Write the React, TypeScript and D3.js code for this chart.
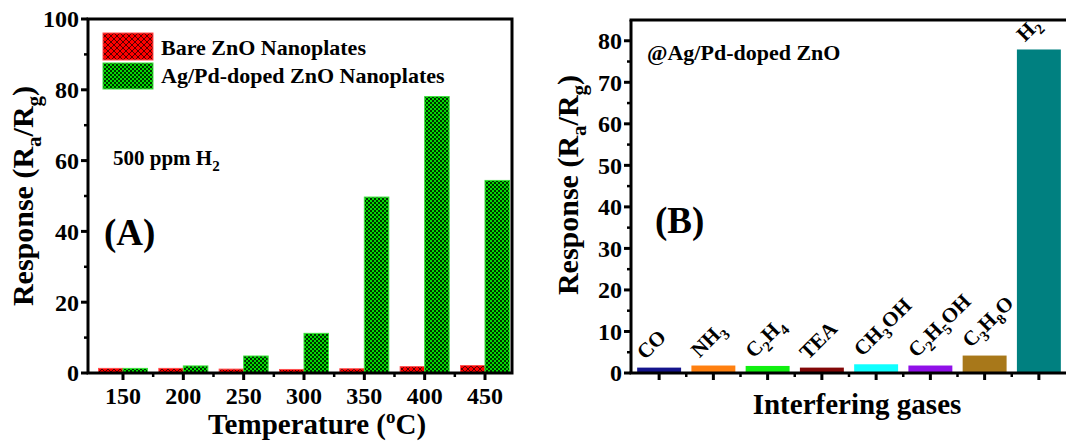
import * as d3 from 'd3';

// Panel A: response vs operating temperature, 500 ppm H2
const temperatures = ['150', '200', '250', '300', '350', '400', '450'];
const bareZnO = [1.3, 1.3, 1.1, 1.0, 1.2, 1.8, 2.1];
const dopedZnO = [1.3, 2.0, 4.8, 11.2, 49.7, 78.1, 54.4];
const tempTicks = [0, 20, 40, 60, 80, 100];

// Panel B: selectivity of Ag/Pd-doped ZnO
const gases = ['CO', 'NH3', 'C2H4', 'TEA', 'CH3OH', 'C2H5OH', 'C3H8O', 'H2'];
const gasResponse = [1.3, 1.8, 1.7, 1.3, 2.1, 1.8, 4.2, 77.9];
const gasColors = ['#14148c', '#ff8010', '#10f010', '#820808', '#10ffff', '#9010e8', '#a8781a', '#008080'];
const gasTicks = [0, 10, 20, 30, 40, 50, 60, 70, 80];

const FONT = '"Liberation Serif", "Times New Roman", serif';

// rough Times-Bold advance widths (em) for the letters used in gas names
const GLYPH_W: Record<string, number> = { C: 0.722, O: 0.778, N: 0.722, H: 0.778, T: 0.667, E: 0.667, A: 0.722 };
const glyphW = (ch: string) => (/\d/.test(ch) ? 0.5 : GLYPH_W[ch] ?? 0.7);

// break a formula into pieces, each placed as its own rotated <text>
function chemPieces(label: string, size: number, angle: number) {
  const parts = label.match(/[A-Za-z]+|\d+/g) || [];
  const rad = (angle * Math.PI) / 180;
  const ux = Math.cos(rad), uy = Math.sin(rad);
  const vx = -Math.sin(rad), vy = Math.cos(rad); // "down" in the rotated frame
  let adv = 0;
  return parts.map(p => {
    const sub = /\d/.test(p);
    const fs = sub ? size * 0.7 : size;
    const shift = sub ? size * 0.28 : 0;
    const piece = { text: p, fs, dx: adv * ux + shift * vx, dy: adv * uy + shift * vy };
    adv += p.split('').reduce((s, ch) => s + glyphW(ch) * fs, 0);
    return piece;
  });
}

function YTitle({ x, y }: { x: number; y: number }) {
  const fs = 30, sh = 8;
  return (
    <text transform={`translate(${x},${y}) rotate(-90)`} textAnchor="middle" fontSize={fs} fontWeight="bold">
      Response (R<tspan fontSize={fs * 0.7} dy={sh}>a</tspan>
      <tspan dy={-sh}>/R</tspan>
      <tspan fontSize={fs * 0.7} dy={sh}>g</tspan>
      <tspan dy={-sh}>)</tspan>
    </text>
  );
}

function PanelA() {
  const left = 88, right = 512, top = 19, bottom = 373;
  const x = d3.scalePoint<string>().domain(temperatures).range([123, 485]);
  const inner = d3.scaleBand<string>().domain(['bare', 'doped']).range([-24.5, 24.5]);
  const y = d3.scaleLinear().domain([0, 100]).range([bottom, top]);
  const minorY = d3.range(10, 100, 20);
  const step = x.step();
  const minorX = temperatures.slice(0, -1).map(t => (x(t) as number) + step / 2);

  return (
    <g>
      {temperatures.map((t, i) => (
        <g key={t}>
          <rect x={(x(t) as number) + (inner('bare') as number)} y={y(bareZnO[i])}
            width={inner.bandwidth()} height={bottom - y(bareZnO[i])}
            fill="url(#redHatch)" stroke="#ff5050" strokeWidth={1} />
          <rect x={(x(t) as number) + (inner('doped') as number)} y={y(dopedZnO[i])}
            width={inner.bandwidth()} height={bottom - y(dopedZnO[i])}
            fill="url(#greenCheck)" stroke="#40e040" strokeWidth={1} />
        </g>
      ))}
      <rect x={left} y={top} width={right - left} height={bottom - top} fill="none" stroke="#000" strokeWidth={3} />
      {tempTicks.map(v => (
        <g key={v}>
          <line x1={left - 7} x2={left} y1={y(v)} y2={y(v)} stroke="#000" strokeWidth={3} />
          <text x={left - 9} y={y(v)} dy="0.35em" textAnchor="end" fontSize={24} fontWeight="bold">{v}</text>
        </g>
      ))}
      {minorY.map(v => (
        <line key={v} x1={left - 4} x2={left} y1={y(v)} y2={y(v)} stroke="#000" strokeWidth={2.5} />
      ))}
      {temperatures.map(t => (
        <g key={t}>
          <line x1={x(t)} x2={x(t)} y1={bottom} y2={bottom + 7} stroke="#000" strokeWidth={3} />
          <text x={x(t)} y={404} textAnchor="middle" fontSize={24} fontWeight="bold">{t}</text>
        </g>
      ))}
      {minorX.map(v => (
        <line key={v} x1={v} x2={v} y1={bottom} y2={bottom + 4} stroke="#000" strokeWidth={2.5} />
      ))}
      <text x={317} y={434} textAnchor="middle" fontSize={29} fontWeight="bold">
        Temperature (<tspan fontSize={19} dy={-11}>o</tspan><tspan dy={11}>C)</tspan>
      </text>
      <YTitle x={33} y={196} />

      {/* legend */}
      <rect x={103} y={33} width={50} height={27} fill="url(#redHatch)" stroke="#ff5050" strokeWidth={1} />
      <rect x={103} y={63} width={50} height={26} fill="url(#greenCheck)" stroke="#40e040" strokeWidth={1} />
      <text x={161} y={55} fontSize={22} fontWeight="bold">Bare ZnO Nanoplates</text>
      <text x={161} y={83} fontSize={22} fontWeight="bold">Ag/Pd-doped ZnO Nanoplates</text>

      <text x={113} y={165} fontSize={21} fontWeight="bold">
        500 ppm H<tspan fontSize={15} dy={6}>2</tspan>
      </text>
      <text x={104} y={245} fontSize={37} fontWeight="bold">(A)</text>
    </g>
  );
}

function PanelB() {
  const left = 631, right = 1066, top = 20, bottom = 373;
  const x = d3.scaleBand<string>().domain(gases).range([632, 1066]).paddingInner(0.19).paddingOuter(0.095);
  const y = d3.scaleLinear().domain([0, 85]).range([bottom, top]);
  const minorY = d3.range(5, 85, 10);
  const centers = gases.map(g => (x(g) as number) + x.bandwidth() / 2);
  const minorX = centers.slice(0, -1).map(c => c + x.step() / 2);
  const labelSize = 21;

  return (
    <g>
      {gases.map((g, i) => (
        <rect key={g} x={x(g)} y={y(gasResponse[i])} width={x.bandwidth()}
          height={bottom - y(gasResponse[i])} fill={gasColors[i]} />
      ))}
      {/* gas names, tilted 45° and sitting on top of each bar */}
      {gases.map((g, i) => {
        const ax = centers[i] - 14, ay = y(gasResponse[i]) - 7;
        return (
          <g key={g}>
            {chemPieces(g, labelSize, -45).map((p, j) => (
              <text key={j} transform={`translate(${ax + p.dx},${ay + p.dy}) rotate(-45)`}
                fontSize={p.fs} fontWeight="bold">{p.text}</text>
            ))}
          </g>
        );
      })}
      <line x1={left} x2={left} y1={top} y2={bottom} stroke="#000" strokeWidth={3} />
      <line x1={left - 1.5} x2={right} y1={bottom} y2={bottom} stroke="#000" strokeWidth={3} />
      <line x1={left - 1.5} x2={right} y1={top} y2={top} stroke="#000" strokeWidth={3} />
      {gasTicks.map(v => (
        <g key={v}>
          <line x1={left - 7} x2={left} y1={y(v)} y2={y(v)} stroke="#000" strokeWidth={3} />
          <text x={622} y={y(v)} dy="0.35em" textAnchor="end" fontSize={24} fontWeight="bold">{v}</text>
        </g>
      ))}
      {minorY.map(v => (
        <line key={v} x1={left - 4} x2={left} y1={y(v)} y2={y(v)} stroke="#000" strokeWidth={2.5} />
      ))}
      {centers.map((c, i) => (
        <line key={i} x1={c} x2={c} y1={bottom} y2={bottom + 7} stroke="#000" strokeWidth={3} />
      ))}
      {minorX.map((c, i) => (
        <line key={i} x1={c} x2={c} y1={bottom} y2={bottom + 4} stroke="#000" strokeWidth={2.5} />
      ))}
      <text x={857} y={414} textAnchor="middle" fontSize={29} fontWeight="bold">Interfering gases</text>
      <YTitle x={578} y={185} />
      <text x={647} y={60} fontSize={22} fontWeight="bold">@Ag/Pd-doped ZnO</text>
      <text x={655} y={233} fontSize={37} fontWeight="bold">(B)</text>
    </g>
  );
}

export default function App() {
  return (
    <svg width={1066} height={443} style={{ position: 'absolute', left: 0, top: 0, background: '#fff' }}
      fontFamily={FONT}>
      <defs>
        <pattern id="redHatch" width={6} height={6} patternUnits="userSpaceOnUse">
          <rect width={6} height={6} fill="#ff0000" />
          <path d="M0,3 L3,0 L6,3 L3,6 Z" fill="none" stroke="#000" strokeWidth={0.9} strokeOpacity={0.75} />
        </pattern>
        <pattern id="greenCheck" width={4} height={4} patternUnits="userSpaceOnUse">
          <rect width={4} height={4} fill="#00dd00" />
          <rect width={2} height={2} fill="#000" fillOpacity={0.8} />
          <rect x={2} y={2} width={2} height={2} fill="#000" fillOpacity={0.8} />
        </pattern>
      </defs>
      <rect width={1066} height={443} fill="#fff" />
      <PanelA />
      <PanelB />
    </svg>
  );
}
